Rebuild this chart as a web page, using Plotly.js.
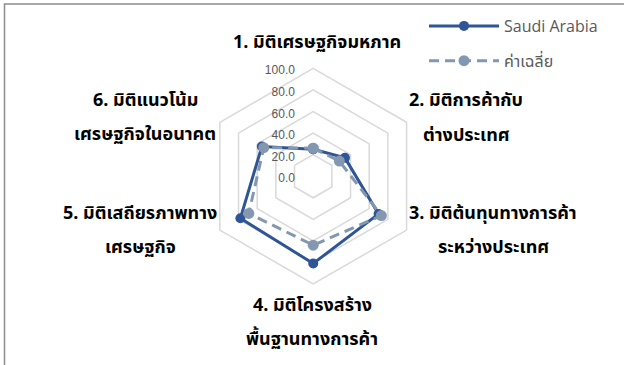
<!DOCTYPE html>
<html>
<head>
<meta charset="utf-8">
<script src="https://cdn.plot.ly/plotly-3.0.1.min.js"></script>
<style>html,body{margin:0;padding:0;background:#fff;}#chart{width:624px;height:365px;}</style>
</head>
<body>
<div id="chart"></div>
<script>
// ---- data ----
const categoryLines = [
  ['1. มิติเศรษฐกิจมหภาค'],
  ['2. มิติการค้ากับ', 'ต่างประเทศ'],
  ['3. มิติต้นทุนทางการค้า', 'ระหว่างประเทศ'],
  ['4. มิติโครงสร้าง', 'พื้นฐานทางการค้า'],
  ['5. มิติเสถียรภาพทาง', 'เศรษฐกิจ'],
  ['6. มิติแนวโน้ม', 'เศรษฐกิจในอนาคต']
];
const categories = categoryLines.map(l => l.join(''));
const seriesNames = ['Saudi Arabia', 'ค่าเฉลี่ย'];
const saudiValues = [25, 34, 70, 81, 78, 55];
const averageValues = [26, 28, 73, 64, 69, 53];
const radialTicks = [0, 20, 40, 60, 80, 100];

// ---- layout helpers ----
const W = 624, H = 365;
const px = x => x / W;
const py = y => 1 - y / H;
const cx = 313.2, cy = 176.2, R = 107.8;

const close = a => a.concat([a[0]]);
const thaiFont = 'Noto Sans Thai, Tahoma, Noto Sans, sans-serif';

const traces = [
  {
    type: 'scatterpolar', mode: 'lines+markers', name: seriesNames[0],
    r: close(saudiValues), theta: close(categories),
    line: {color: '#2F5597', width: 3},
    marker: {color: '#2F5597', size: 10},
    legendgroup: 'a', hoverinfo: 'skip'
  },
  {
    type: 'scatterpolar', mode: 'lines+markers', name: seriesNames[1],
    r: close(averageValues), theta: close(categories),
    line: {color: '#8497B0', width: 3, dash: '10px,6px'},
    marker: {color: '#8497B0', size: 11},
    legendgroup: 'b', hoverinfo: 'skip'
  }
];

// label centres (pixel) for each category, line spacing in px
const labelCentres = [[317, 43], [466, 101], [493, 213], [312, 305], [140, 213], [145, 100]];
const lineGap = 34.5;
const annotations = [];
categoryLines.forEach((lines, i) => {
  lines.forEach((t, j) => {
    annotations.push({
      text: t, xref: 'paper', yref: 'paper',
      x: px(labelCentres[i][0]), y: py(labelCentres[i][1] + j * lineGap),
      xanchor: 'center', yanchor: 'middle', showarrow: false,
      font: {family: thaiFont, size: 18, color: '#000000', weight: 'bold'}
    });
  });
});

const layout = {
  width: W, height: H,
  margin: {l: 0, r: 0, t: 0, b: 0},
  paper_bgcolor: '#ffffff',
  showlegend: true,
  legend: {
    x: px(424), y: py(9), xanchor: 'left', yanchor: 'top',
    itemwidth: 70,
    font: {family: 'Open Sans, Noto Sans Thai, sans-serif', size: 16, color: '#595959'},
    tracegroupgap: 11, bgcolor: 'rgba(0,0,0,0)'
  },
  polar: {
    domain: {x: [px(cx - R), px(cx + R)], y: [py(cy + R), py(cy - R)]},
    gridshape: 'linear',
    bgcolor: '#ffffff',
    radialaxis: {
      range: [0, 100], tickvals: radialTicks, tickformat: '.1f',
      angle: 90, side: 'counterclockwise', showline: false,
      ticks: 'outside', ticklen: 7, tickcolor: 'rgba(0,0,0,0)',
      gridcolor: '#D9D9D9', gridwidth: 1.5,
      tickfont: {family: 'Liberation Sans, Arial, sans-serif', size: 12, color: '#595959'}
    },
    angularaxis: {
      rotation: 90, direction: 'clockwise',
      showgrid: false, showline: true, linecolor: '#D9D9D9', linewidth: 1.5,
      showticklabels: false, ticks: ''
    }
  },
  annotations: annotations,
  shapes: [{
    type: 'rect', xref: 'paper', yref: 'paper',
    x0: px(4.5), x1: 1.2, y0: -0.2, y1: py(4),
    line: {color: '#8C8C8C', width: 1.5}, fillcolor: 'rgba(0,0,0,0)'
  }]
};

Plotly.newPlot('chart', traces, layout, {displayModeBar: false, staticPlot: true});
</script>
</body>
</html>
